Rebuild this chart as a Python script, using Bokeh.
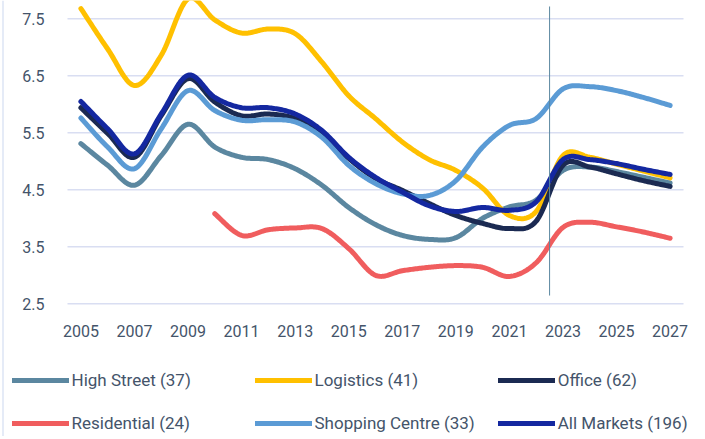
import numpy as np
from bokeh.plotting import figure
from bokeh.models import Legend, LegendItem, Range1d
from bokeh.core.properties import value
from bokeh.embed import file_html
from bokeh.resources import INLINE

# ---------------- data ----------------
years = list(range(2005, 2028))
high_street = [5.31, 4.93, 4.58, 5.10, 5.65, 5.25, 5.07, 5.03, 4.87, 4.58, 4.19, 3.89,
               3.70, 3.63, 3.66, 4.00, 4.20, 4.32, 4.84, 4.90, 4.82, 4.72, 4.62]
logistics = [7.68, 6.97, 6.33, 6.86, 7.85, 7.48, 7.25, 7.32, 7.24, 6.74, 6.15, 5.75,
             5.34, 5.03, 4.84, 4.53, 4.05, 4.12, 5.10, 5.07, 4.95, 4.83, 4.71]
office = [5.94, 5.49, 5.07, 5.80, 6.45, 6.04, 5.80, 5.83, 5.75, 5.49, 5.05, 4.70,
          4.49, 4.26, 4.05, 3.91, 3.82, 3.95, 4.93, 4.90, 4.78, 4.66, 4.56]
residential = [None, None, None, None, None, 4.08, 3.70, 3.80, 3.83, 3.82, 3.47, 3.00,
               3.08, 3.14, 3.17, 3.14, 2.98, 3.22, 3.84, 3.93, 3.85, 3.76, 3.65]
shopping_centre = [5.76, 5.25, 4.87, 5.57, 6.24, 5.89, 5.72, 5.73, 5.69, 5.42, 4.93, 4.61,
                   4.43, 4.40, 4.66, 5.25, 5.63, 5.75, 6.27, 6.31, 6.24, 6.12, 5.98]
all_markets = [6.05, 5.57, 5.13, 5.83, 6.51, 6.12, 5.94, 5.94, 5.83, 5.54, 5.07, 4.72,
               4.46, 4.22, 4.12, 4.19, 4.14, 4.29, 5.03, 5.03, 4.96, 4.86, 4.77]

series_names = ["High Street (37)", "Logistics (41)", "Office (62)",
                "Residential (24)", "Shopping Centre (33)", "All Markets (196)"]
series_values = [high_street, logistics, office, residential, shopping_centre, all_markets]
series_colors = ["#5B87A0", "#FFC000", "#1B2A52", "#F05D5E", "#5B9BD5", "#1428A0"]

x_ticks = list(range(2005, 2028, 2))
x_tick_labels = [str(y) for y in x_ticks]
y_ticks = [2.5, 3.5, 4.5, 5.5, 6.5, 7.5]
y_tick_labels = [f"{t:.1f}" for t in y_ticks]
forecast_start = 2022.5
forecast_line_span = (2.645, 7.716)

FONT = "Roboto"
TEXT_COLOR = "#44546A"

# ---------------- layout (pixels) ----------------
W, H = 700, 436
AREA_LEFT, AREA_RIGHT = 67, 683          # plot area in pixels
X_LO, X_HI = 2004.5, 2027.5              # category band edges
PX_PER_YEAR = (AREA_RIGHT - AREA_LEFT) / (X_HI - X_LO)
PX_PER_UNIT = 57.0
Y_TOP_PX_OF_7_5 = 18.3
BORDER_PX = 2.5                           # light frame line at the left edge
x_start = X_LO - AREA_LEFT / PX_PER_YEAR
x_end = x_start + W / PX_PER_YEAR
y_end = 7.5 + Y_TOP_PX_OF_7_5 / PX_PER_UNIT
y_start = y_end - H / PX_PER_UNIT


def smooth(xs, ys, n=20):
    """Excel-style smoothed line (Catmull-Rom Bezier) through the given points."""
    pts = [(float(x), float(y)) for x, y in zip(xs, ys) if y is not None]
    P = np.array(pts)
    out_x, out_y = [], []
    for i in range(len(P) - 1):
        p0 = P[i - 1] if i > 0 else P[i]
        p1, p2 = P[i], P[i + 1]
        p3 = P[i + 2] if i + 2 < len(P) else P[i + 1]
        c1 = p1 + (p2 - p0) / 6.0
        c2 = p2 - (p3 - p1) / 6.0
        t = np.linspace(0, 1, n, endpoint=(i == len(P) - 2))
        b = ((1 - t) ** 3)[:, None] * p1 + (3 * (1 - t) ** 2 * t)[:, None] * c1 \
            + (3 * (1 - t) * t ** 2)[:, None] * c2 + (t ** 3)[:, None] * p2
        out_x.extend(b[:, 0])
        out_y.extend(b[:, 1])
    return out_x, out_y


p = figure(width=W, height=H, output_backend="svg", toolbar_location=None,
           x_axis_type=None, y_axis_type=None,
           x_range=Range1d(x_start, x_end), y_range=Range1d(y_start, y_end),
           min_border_left=0, min_border_right=0, min_border_top=0, min_border_bottom=0)
p.outline_line_color = None
p.background_fill_color = "white"
p.border_fill_color = "white"
p.xgrid.visible = False
p.ygrid.visible = False

# faint container edge on the left
border_x = x_start + BORDER_PX / PX_PER_YEAR
p.segment(x0=[border_x], x1=[border_x], y0=[y_start], y1=[y_end],
          line_color="#DCE5F4", line_width=1.5)

# horizontal gridlines across the plot area
p.segment(x0=[X_LO] * len(y_ticks), x1=[X_HI] * len(y_ticks), y0=y_ticks, y1=y_ticks,
          line_color="#D9DEF2", line_width=1.5)

# tick labels
p.text(x=[X_LO] * len(y_ticks), y=y_ticks, text=y_tick_labels, x_offset=-23,
       text_align="right", text_baseline="middle", text_font=value(FONT),
       text_font_size="16px", text_color=TEXT_COLOR)
p.text(x=x_ticks, y=[y_ticks[0]] * len(x_ticks), text=x_tick_labels, y_offset=27,
       text_align="center", text_baseline="middle", text_font=value(FONT),
       text_font_size="16px", text_color=TEXT_COLOR)

renderers = []
for vals, col in zip(series_values, series_colors):
    sx, sy = smooth(years, vals)
    renderers.append(p.line(sx, sy, line_color=col, line_width=5,
                            line_cap="round", line_join="round"))

p.segment(x0=[forecast_start], y0=[forecast_line_span[0]],
          x1=[forecast_start], y1=[forecast_line_span[1]],
          line_color="#5B87A0", line_width=1)

legend = Legend(items=[LegendItem(label=n, renderers=[r]) for n, r in zip(series_names, renderers)],
                location=(11.5, 3), orientation="horizontal", ncols=3,
                glyph_width=57, glyph_height=20, label_height=20, label_width=160,
                label_standoff=3, spacing=23, padding=0, margin=0,
                border_line_color=None, background_fill_alpha=0,
                label_text_font=FONT, label_text_font_size="17px",
                label_text_color=TEXT_COLOR)
p.add_layout(legend, "center")

open("out.html", "w").write(file_html(p, INLINE))
